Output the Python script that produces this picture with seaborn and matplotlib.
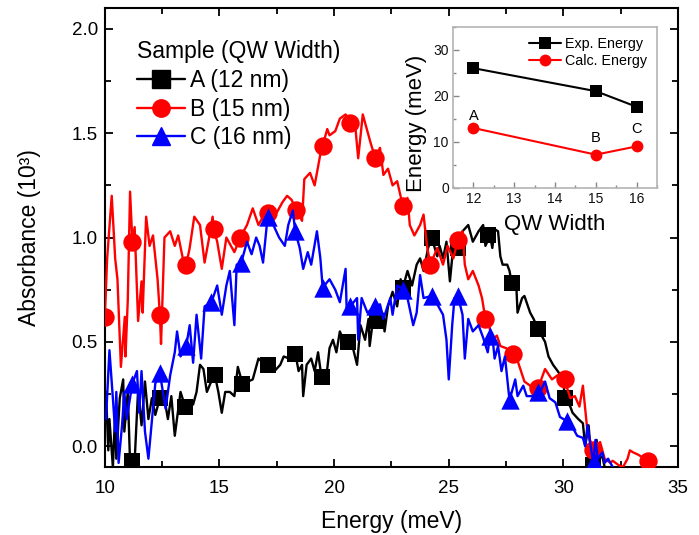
import matplotlib
matplotlib.use("Agg")
import matplotlib.pyplot as plt
from matplotlib.lines import Line2D
from matplotlib.ticker import MultipleLocator, FormatStrFormatter
import seaborn as sns

# =====================
# DATA
# =====================
# Sample A (12 nm) - black
a_x = [10.05, 10.15, 10.2, 10.35, 10.45, 10.5, 10.65, 10.8, 10.85, 11.0,
       11.1, 11.2, 11.3, 11.45, 11.6, 11.75, 11.9, 12.05, 12.2, 12.4,
       12.55, 12.75, 12.9, 13.05, 13.3, 13.5, 13.7, 13.85, 14.0, 14.15,
       14.3, 14.45, 14.6, 14.8, 14.95, 15.1, 15.25, 15.45, 15.65, 15.8,
       16.0, 16.25, 16.45, 16.7, 16.9, 17.1, 17.4, 17.65, 17.8, 18.05,
       18.3, 18.45, 18.6, 18.65, 18.8, 19.0, 19.15, 19.3, 19.45, 19.7,
       19.8, 19.95, 20.1, 20.25, 20.4, 20.6, 20.8, 21.0, 21.15, 21.35,
       21.5, 21.55, 21.7, 21.85, 22.1, 22.2, 22.35, 22.55, 22.75, 22.9,
       23.0, 23.2, 23.4, 23.6, 23.75, 23.9, 24.1, 24.25, 24.5, 24.6,
       24.75, 24.9, 25.05, 25.2, 25.4, 25.6, 25.85, 26.05, 26.3, 26.5,
       26.6, 26.8, 26.9, 27.0, 27.15, 27.25, 27.35, 27.55, 27.65, 27.75,
       27.95, 28.0, 28.2, 28.3, 28.55, 28.7, 28.9, 29.2, 29.35, 29.55,
       29.75, 30.0, 30.05, 30.3, 30.4, 30.65, 30.85, 30.95, 31.1, 31.15,
       31.3, 31.45, 31.5, 31.7, 31.8]
a_y = [0.26, -0.02, 0.13, -0.1, 0.16, -0.06, 0.23, 0.32, 0.07, 0.26,
       -0.08, -0.05, -0.07, 0.27, 0.1, 0.31, 0.13, 0.23, 0.15, 0.23,
       0.26, 0.13, 0.24, 0.05, 0.26, 0.19, 0.21, 0.2, 0.26, 0.39,
       0.37, 0.26, 0.3, 0.34, 0.26, 0.16, 0.26, 0.26, 0.24, 0.38,
       0.3, 0.31, 0.32, 0.42, 0.4, 0.39, 0.36, 0.39, 0.43, 0.42,
       0.45, 0.36, 0.39, 0.24, 0.39, 0.42, 0.36, 0.45, 0.33, 0.37,
       0.47, 0.51, 0.45, 0.55, 0.51, 0.51, 0.48, 0.39, 0.58, 0.51,
       0.61, 0.48, 0.61, 0.6, 0.64, 0.55, 0.67, 0.74, 0.67, 0.8,
       0.76, 0.84, 0.77, 0.87, 0.9, 0.84, 0.95, 1.0, 0.91, 0.96,
       0.9, 0.98, 0.79, 0.96, 0.95, 1.03, 1.06, 0.98, 1.03, 1.06,
       0.96, 1.01, 0.95, 1.04, 1.03, 0.91, 0.87, 0.87, 0.84, 0.78,
       0.76, 0.64, 0.71, 0.72, 0.64, 0.61, 0.56, 0.5, 0.43, 0.39,
       0.36, 0.32, 0.23, 0.19, 0.16, 0.13, 0.11, 0.0, 0.1, 0.03,
       -0.09, 0.03, -0.06, -0.05, -0.1]
a_mx = [11.2, 12.4, 13.5, 14.8, 16.0, 17.1, 18.3, 19.45, 20.6, 21.85,
        23.0, 24.25, 25.4, 26.7, 27.75, 28.9, 30.05, 31.3]
a_my = [-0.07, 0.23, 0.19, 0.34, 0.3, 0.39, 0.44, 0.33, 0.5, 0.6,
        0.76, 1.0, 0.95, 1.01, 0.78, 0.56, 0.23, -0.09]

# Sample B (15 nm) - red
b_x = [10.0, 10.1, 10.3, 10.45, 10.55, 10.7, 10.87, 10.9, 11.0, 11.1,
       11.2, 11.3, 11.45, 11.6, 11.65, 11.8, 11.95, 12.1, 12.3, 12.4,
       12.45, 12.6, 12.85, 13.05, 13.2, 13.4, 13.55, 13.7, 13.9, 14.15,
       14.35, 14.55, 14.7, 14.75, 14.9, 15.1, 15.3, 15.45, 15.65, 15.9,
       16.2, 16.45, 16.7, 16.9, 17.1, 17.3, 17.5, 17.75, 17.95, 18.15,
       18.35, 18.6, 18.7, 18.95, 19.15, 19.4, 19.5, 19.7, 19.8, 20.05,
       20.25, 20.5, 20.7, 20.9, 21.05, 21.25, 21.45, 21.6, 21.8, 22.0,
       22.15, 22.35, 22.55, 22.75, 23.0, 23.2, 23.3, 23.5, 23.75, 23.9,
       24.05, 24.2, 24.5, 24.75, 24.95, 25.2, 25.4, 25.6, 25.7, 25.85,
       26.05, 26.3, 26.45, 26.6, 26.75, 26.9, 27.1, 27.25, 27.5, 27.8,
       28.0, 28.3, 28.55, 28.9, 29.2, 29.5, 29.75, 30.05, 30.3, 30.5,
       30.7, 30.85, 30.95, 31.05, 31.3, 31.6, 31.8, 32.05, 32.15, 32.4,
       32.6, 32.8, 32.9, 33.05, 33.25, 33.7]
b_y = [0.62, 0.9, 1.2, 0.9, 0.8, 0.38, 0.62, 0.43, 0.7, 1.22,
       0.98, 1.05, 0.6, 0.79, 0.64, 1.1, 0.96, 1.01, 0.8, 0.63,
       0.49, 1.0, 1.03, 0.96, 1.01, 0.9, 0.87, 0.95, 1.1, 1.06,
       0.88, 1.0, 1.1, 1.04, 0.98, 0.85, 1.0, 0.97, 0.93, 1.0,
       1.06, 1.14, 1.06, 1.1, 1.12, 1.15, 1.12, 1.17, 1.2, 1.18,
       1.13, 1.08, 1.28, 1.31, 1.25, 1.4, 1.44, 1.52, 1.49, 1.51,
       1.57, 1.59, 1.56, 1.56, 1.38, 1.59, 1.51, 1.45, 1.38, 1.43,
       1.3, 1.33, 1.25, 1.27, 1.15, 1.19, 1.06, 1.01, 1.06, 1.11,
       0.96, 0.87, 0.95, 0.87, 0.96, 0.9, 0.99, 1.03, 0.87, 0.8,
       0.84, 0.77, 0.71, 0.61, 0.58, 0.51, 0.53, 0.48, 0.47, 0.44,
       0.41, 0.31, 0.29, 0.28, 0.37, 0.32, 0.34, 0.32, 0.23, 0.24,
       0.19, 0.29, 0.18, 0.07, -0.02, 0.02, -0.06, -0.08, -0.07, -0.09,
       -0.1, -0.06, -0.02, -0.03, -0.04, -0.07]
b_mx = [10.0, 11.2, 12.4, 13.55, 14.75, 15.9, 17.1, 18.35, 19.5, 20.7,
        21.8, 23.0, 24.2, 25.4, 26.6, 27.8, 28.9, 30.05, 31.3, 33.7]
b_my = [0.62, 0.98, 0.63, 0.87, 1.04, 1.0, 1.12, 1.13, 1.44, 1.55,
        1.38, 1.15, 0.87, 0.99, 0.61, 0.44, 0.28, 0.32, -0.02, -0.07]

# Sample C (16 nm) - blue
c_x = [10.05, 10.2, 10.35, 10.45, 10.5, 10.6, 10.75, 10.85, 10.95, 11.2,
       11.4, 11.5, 11.6, 11.75, 11.9, 12.05, 12.2, 12.4, 12.65, 12.85,
       13.05, 13.15, 13.3, 13.55, 13.7, 13.85, 14.0, 14.2, 14.35, 14.65,
       14.9, 15.1, 15.3, 15.45, 15.65, 15.75, 15.95, 16.2, 16.4, 16.6,
       16.75, 16.9, 17.1, 17.35, 17.6, 17.85, 18.0, 18.2, 18.3, 18.5,
       18.65, 18.85, 19.0, 19.25, 19.4, 19.5, 19.8, 20.05, 20.25, 20.5,
       20.55, 20.7, 21.0, 21.05, 21.2, 21.45, 21.8, 22.0, 22.15, 22.45,
       22.55, 22.75, 23.0, 23.2, 23.45, 23.6, 23.75, 23.9, 24.25, 24.5,
       24.75, 24.9, 25.0, 25.15, 25.25, 25.4, 25.6, 25.7, 25.85, 26.05,
       26.3, 26.5, 26.7, 26.8, 26.9, 27.0, 27.15, 27.3, 27.45, 27.65,
       27.9, 28.0, 28.25, 28.4, 28.9, 29.2, 29.4, 29.65, 29.85, 30.15,
       30.35, 30.6, 30.85, 30.95, 31.05, 31.15, 31.3, 31.4, 31.5, 31.7,
       31.8, 31.95, 32.15]
c_y = [0.13, 0.46, 0.23, 0.07, 0.26, -0.08, 0.1, 0.26, 0.13, 0.3,
       0.36, 0.16, 0.36, 0.07, -0.06, 0.12, 0.3, 0.35, 0.18, 0.34,
       0.45, 0.55, 0.43, 0.48, 0.58, 0.4, 0.63, 0.42, 0.67, 0.69,
       0.77, 0.63, 0.77, 0.84, 0.58, 0.87, 0.88, 0.98, 0.92, 1.0,
       0.96, 0.88, 1.1, 1.06, 1.0, 0.96, 1.06, 1.13, 1.03, 0.95,
       0.85, 0.93, 0.87, 1.03, 0.9, 0.76, 0.8, 0.75, 0.69, 0.85,
       0.64, 0.67, 0.71, 0.51, 0.71, 0.64, 0.67, 0.68, 0.61, 0.71,
       0.63, 0.77, 0.75, 0.71, 0.58, 0.64, 0.82, 0.71, 0.72, 0.68,
       0.63, 0.51, 0.32, 0.58, 0.71, 0.72, 0.63, 0.42, 0.61, 0.55,
       0.58, 0.52, 0.45, 0.53, 0.53, 0.42, 0.48, 0.36, 0.43, 0.22,
       0.32, 0.24, 0.29, 0.24, 0.24, 0.31, 0.23, 0.21, 0.14, 0.12,
       0.1, 0.05, 0.04, 0.0, 0.1, 0.03, -0.08, 0.03, -0.06, -0.03,
       -0.08, -0.06, -0.1]
c_mx = [11.2, 12.4, 13.55, 14.65, 15.95, 17.1, 18.3, 19.5, 20.7, 21.8,
        23.0, 24.25, 25.4, 26.8, 27.65, 28.9, 30.15, 31.35]
c_my = [0.3, 0.35, 0.48, 0.69, 0.88, 1.1, 1.03, 0.76, 0.67, 0.67,
        0.75, 0.72, 0.72, 0.53, 0.22, 0.26, 0.12, -0.07]

sample_labels = ["A (12 nm)", "B (15 nm)", "C (16 nm)"]

# Inset: peak energies vs well width
qw_width = [12, 15, 16]
exp_energy = [26, 21, 17.6]
calc_energy = [13, 7.2, 9]
inset_tags = ["A", "B", "C"]
tag_y = [15.6, 10.9, 12.8]

# =====================
# PLOT
# =====================
sns.set_style("ticks")
plt.rcParams["font.family"] = ["Liberation Sans", "DejaVu Sans"]
plt.rcParams["text.color"] = "black"
plt.rcParams["axes.labelcolor"] = "black"
plt.rcParams["xtick.color"] = "black"
plt.rcParams["ytick.color"] = "black"
plt.rcParams["xtick.direction"] = "in"
plt.rcParams["ytick.direction"] = "in"

fig = plt.figure(figsize=(6.99, 5.35), dpi=100)
ax = fig.add_axes([0.150, 0.127, 0.820, 0.858])

series = [
    (a_x, a_y, a_mx, a_my, "black", "s", 130),
    (b_x, b_y, b_mx, b_my, "red", "o", 175),
    (c_x, c_y, c_mx, c_my, "blue", "^", 175),
]
handles = []
for i, (x, y, mx, my, col, mk, s) in enumerate(series):
    sns.lineplot(x=x, y=y, color=col, lw=1.7, estimator=None, sort=False,
                 ax=ax, zorder=2 + 2 * i)
    sns.scatterplot(x=mx, y=my, color=col, marker=mk, s=s, linewidth=0,
                    ax=ax, zorder=3 + 2 * i)
    handles.append(Line2D([], [], color=col, lw=1.7, marker=mk, markersize=12.5))

ax.set_xlim(10, 35)
ax.set_ylim(-0.1, 2.1)
ax.xaxis.set_major_locator(MultipleLocator(5))
ax.xaxis.set_minor_locator(MultipleLocator(2.5))
ax.yaxis.set_major_locator(MultipleLocator(0.5))
ax.yaxis.set_minor_locator(MultipleLocator(0.25))
ax.yaxis.set_major_formatter(FormatStrFormatter("%.1f"))
ax.tick_params(which="both", top=True, right=True, width=1.3)
ax.tick_params(which="major", length=6)
ax.tick_params(which="minor", length=4)
ax.tick_params(axis="x", labelsize=13.5, pad=9)
ax.tick_params(axis="y", labelsize=13.5, pad=5)
for sp in ax.spines.values():
    sp.set_linewidth(1.5)
    sp.set_color("black")
ax.set_xlabel("Energy (meV)", fontsize=16.5, labelpad=10)
ax.set_ylabel("Absorbance (10³)", fontsize=16.5, labelpad=22)

leg = ax.legend(handles, sample_labels, title="Sample (QW Width)",
                loc="upper left", bbox_to_anchor=(0.056, 0.93), frameon=False,
                fontsize=16.5, title_fontsize=16.5, alignment="left",
                handlelength=2.1, handletextpad=0.2, labelspacing=0.25,
                borderaxespad=0, borderpad=0)

# Inset
ins = fig.add_axes([0.648, 0.649, 0.292, 0.301])
sns.lineplot(x=qw_width, y=exp_energy, color="black", lw=1.5, marker="s",
             markersize=8, markeredgewidth=0, ax=ins, label="Exp. Energy")
sns.lineplot(x=qw_width, y=calc_energy, color="red", lw=1.5, marker="o",
             markersize=8.5, markeredgewidth=0, ax=ins, label="Calc. Energy")
for q, ty, tag in zip(qw_width, tag_y, inset_tags):
    ins.text(q, ty, tag, ha="center", va="center", fontsize=10.5)
ins.set_xlim(11.5, 16.5)
ins.set_ylim(0, 35)
ins.xaxis.set_major_locator(MultipleLocator(1))
ins.xaxis.set_minor_locator(MultipleLocator(0.5))
ins.yaxis.set_major_locator(MultipleLocator(10))
ins.yaxis.set_minor_locator(MultipleLocator(5))
ins.tick_params(which="both", colors="#888888", labelcolor="#111111",
                labelsize=10, width=1)
ins.tick_params(which="major", length=4, pad=3)
ins.tick_params(which="minor", length=2.5)
for sp in ins.spines.values():
    sp.set_color("#b4b4b4")
    sp.set_linewidth(1.2)
ins.set_xlabel("QW Width", fontsize=16, labelpad=6)
ins.set_ylabel("Energy (meV)", fontsize=16)
ins.yaxis.set_label_coords(-0.125, 0.40)
ins.legend(loc="upper right", frameon=False, fontsize=10.3, handlelength=2.2,
           handletextpad=0.3, labelspacing=0.2, borderaxespad=0.3)

plt.savefig("out.png", dpi=100)
